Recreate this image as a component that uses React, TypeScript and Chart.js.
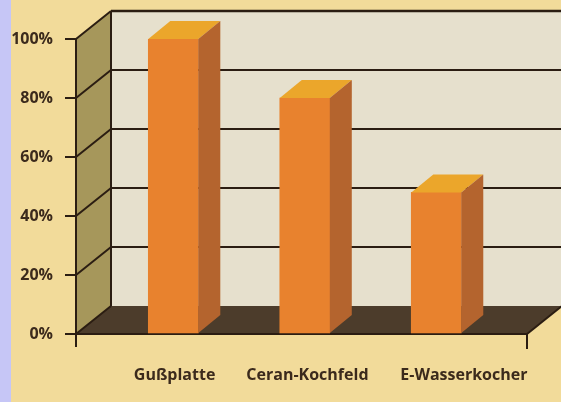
import { useEffect, useRef } from "react";
import { Chart, registerables } from "chart.js";

Chart.register(...registerables);

const categories = ["Gußplatte", "Ceran-Kochfeld", "E-Wasserkocher"];
const values = [100, 80, 48];
const yTicks = [0, 20, 40, 60, 80, 100];

const BG = "#f2db9a";
const BLUE = "#c6c6f6";
const WALL = "#e6e0cd";
const OLIVE = "#a6975b";
const FLOOR = "#4c3c2b";
const LINE = "#2b1d12";
const FRONT = "#e8822e";
const SIDE = "#b4642e";
const TOP = "#eba62b";
const TEXT = "#3b2a1c";

const DX = 35;
const DY = -28;
const BDX = 22;
const BDY = -18;
// small horizontal nudges of the category labels (in category units)
const LABEL_NUDGE = [0.01, 0.02, 0.21];

function poly(ctx: CanvasRenderingContext2D, pts: number[][], fill: string) {
  ctx.beginPath();
  ctx.moveTo(pts[0][0], pts[0][1]);
  for (let i = 1; i < pts.length; i++) ctx.lineTo(pts[i][0], pts[i][1]);
  ctx.closePath();
  ctx.fillStyle = fill;
  ctx.fill();
}

function line(ctx: CanvasRenderingContext2D, x1: number, y1: number, x2: number, y2: number, w = 2) {
  ctx.beginPath();
  ctx.moveTo(x1, y1);
  ctx.lineTo(x2, y2);
  ctx.lineWidth = w;
  ctx.strokeStyle = LINE;
  ctx.stroke();
}

const scene = {
  id: "scene",
  beforeDraw(chart: any) {
    const { ctx, width, height, chartArea: a } = chart;
    const y = chart.scales.y;
    const yb = (v: number) => y.getPixelForValue(v) + DY;
    const L = a.left, R = a.right, B = a.bottom, T = a.top;
    ctx.save();
    ctx.fillStyle = BG;
    ctx.fillRect(0, 0, width, height);
    ctx.fillStyle = BLUE;
    ctx.fillRect(0, 0, 11, height);
    // back wall
    ctx.fillStyle = WALL;
    ctx.fillRect(L + DX, yb(100), width - (L + DX), yb(0) - yb(100));
    // left wall
    poly(ctx, [[L, T], [L + DX, yb(100)], [L + DX, yb(0)], [L, B]], OLIVE);
    // floor
    poly(ctx, [[L, B], [R, B], [R + DX, yb(0)], [L + DX, yb(0)]], FLOOR);
    // back wall grid
    yTicks.forEach((v) => {
      if (v > 0) line(ctx, L + DX, yb(v), width, yb(v), v === 100 ? 2.5 : 2);
      line(ctx, L, y.getPixelForValue(v), L + DX, yb(v), 2);
    });
    line(ctx, L + DX, yb(100), L + DX, yb(0), 2);
    line(ctx, R, B, R + DX, yb(0), 2);
    line(ctx, R, B, R, B + 15, 2);
    line(ctx, L, B, L, B + 13, 2);
    ctx.restore();
  },
  afterDatasetsDraw(chart: any) {
    const { ctx } = chart;
    const meta = chart.getDatasetMeta(0);
    ctx.save();
    meta.data.forEach((bar: any) => {
      const p = bar.getProps(["x", "y", "width", "base"], true);
      const l = p.x - p.width / 2;
      const r = p.x + p.width / 2;
      poly(ctx, [[l, p.y], [r, p.y], [r + BDX, p.y + BDY], [l + BDX, p.y + BDY]], TOP);
      poly(ctx, [[r, p.y], [r + BDX, p.y + BDY], [r + BDX, p.base + BDY], [r, p.base]], SIDE);
    });
    ctx.restore();
  },
};

export default function App() {
  const ref = useRef<HTMLCanvasElement>(null);
  useEffect(() => {
    if (!ref.current) return;
    const font = { family: "'Open Sans', sans-serif", size: 16, weight: "bold" as const };
    const chart = new Chart(ref.current, {
      type: "bar",
      data: {
        datasets: [
          {
            data: values.map((v, i) => ({ x: i, y: v })),
            backgroundColor: FRONT,
            borderWidth: 0,
            barThickness: 50,
          },
        ],
      },
      options: {
        animation: false,
        responsive: false,
        layout: { padding: { top: 39, right: 34, left: 0, bottom: 0 } },
        plugins: { legend: { display: false }, tooltip: { enabled: false } },
        scales: {
          x: {
            type: "linear",
            offset: false,
            min: -0.74,
            max: 2.69,
            afterBuildTicks: (s: any) => {
              s.ticks = categories.map((_, i) => ({ value: i + LABEL_NUDGE[i] }));
            },
            afterFit: (s: any) => {
              s.height = 68;
            },
            ticks: {
              callback: (v: any) => categories[Math.round(v)] ?? "",
              font,
              color: TEXT,
              padding: 24,
              maxRotation: 0,
              autoSkip: false,
            },
            grid: { display: false, offset: false },
            border: { display: true, color: LINE, width: 2 },
          },
          y: {
            min: 0,
            max: 100,
            afterBuildTicks: (s: any) => {
              s.ticks = yTicks.map((v) => ({ value: v }));
            },
            afterFit: (s: any) => {
              s.width = 76;
            },
            ticks: { callback: (v: any) => v + "%", font, color: TEXT, padding: 12 },
            grid: { drawOnChartArea: false, tickLength: 11, color: LINE, lineWidth: 2 },
            border: { color: LINE, width: 2 },
          },
        },
      },
      plugins: [scene],
    });
    return () => chart.destroy();
  }, []);
  return (
    <div style={{ position: "absolute", left: 0, top: 0, width: 561, height: 402 }}>
      <canvas ref={ref} width={561} height={402} />
    </div>
  );
}
